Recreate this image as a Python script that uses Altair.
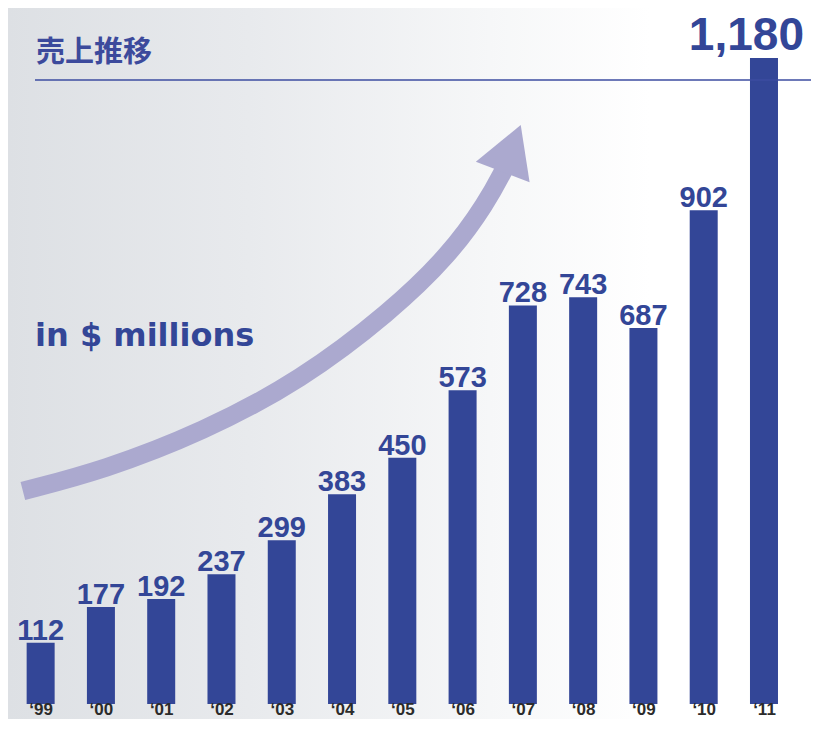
import altair as alt
import pandas as pd

# ---- data ----
years = ["\u201899", "\u201800", "\u201801", "\u201802", "\u201803", "\u201804", "\u201805",
         "\u201806", "\u201807", "\u201808", "\u201809", "\u201810", "\u201811"]
sales = [112, 177, 192, 237, 299, 383, 450, 573, 728, 743, 687, 902, 1180]
value_labels = ["112", "177", "192", "237", "299", "383", "450", "573", "728", "743", "687", "902", "1,180"]

# decorative arrow path (x in bar-index units, y in $ millions)
arrow_x = [-0.295, 1.0485, 2.687, 4.325, 5.800, 6.782, 7.405, 7.700]
arrow_y = [389.1, 427.4, 496.8, 591.8, 716.0, 820.1, 916.9, 979.1]
arrow_head = {"x": 7.815, "y": 1014.7}

title_text = "売上推移"
unit_text = "in $ millions"

BAR = "#334697"
ARROW = "#aba9cf"

W, H = 803, 696
XDOM = [-0.4587, 12.697]
YDOM = [0, 1271.3]

df = pd.DataFrame({"i": list(range(len(years))), "year": years, "sales": sales,
                   "label": value_labels})
df_small = df.iloc[:-1]
df_last = df.iloc[-1:]
arrow_df = pd.DataFrame({"x": arrow_x, "y": arrow_y, "o": list(range(len(arrow_x)))})

xscale = alt.Scale(domain=XDOM, nice=False, zero=False)
yscale = alt.Scale(domain=YDOM, nice=False)

label_expr = "[" + ",".join("'" + y + "'" for y in years) + "][datum.value]"

bg = alt.Chart(alt.Data(values=[{"a": 1}])).mark_rect(
    color=alt.LinearGradient(
        gradient="linear", x1=0, x2=1, y1=0, y2=0,
        stops=[alt.GradientStop(color="#dde0e4", offset=0),
               alt.GradientStop(color="#e8eaed", offset=0.3),
               alt.GradientStop(color="#f6f7f8", offset=0.6),
               alt.GradientStop(color="#ffffff", offset=0.8)])
).encode(x=alt.value(0), x2=alt.value(W), y=alt.value(0), y2=alt.value(H + 15))

bars = alt.Chart(df).mark_bar(color=BAR, size=28).encode(
    x=alt.X("i:Q", scale=xscale,
            axis=alt.Axis(values=list(range(len(years))), labelExpr=label_expr,
                          title=None, domain=False, ticks=False, grid=False,
                          labelOverlap=False, labelFlush=False, zindex=2,
                          labelFont="Liberation Sans", labelFontWeight="bold",
                          labelFontSize=17, labelColor="#2b2b2b", labelPadding=-3)),
    y=alt.Y("sales:Q", scale=yscale, axis=None),
)

arrow_line = alt.Chart(arrow_df).mark_line(
    color=ARROW, strokeWidth=18.5, interpolate="basis", strokeCap="butt"
).encode(
    x=alt.X("x:Q", scale=xscale),
    y=alt.Y("y:Q", scale=yscale),
    order="o:Q",
)

arrow_tip = alt.Chart(alt.Data(values=[arrow_head])).mark_point(
    shape="M0,-0.873L1,0.873L-1,0.873Z", filled=True, opacity=1, color=ARROW,
    size=3318, angle=21, strokeWidth=0
).encode(
    x=alt.X("x:Q", scale=xscale),
    y=alt.Y("y:Q", scale=yscale),
)

bar_labels = alt.Chart(df_small).mark_text(
    color=BAR, font="Liberation Sans", fontWeight="bold", fontSize=29,
    baseline="alphabetic", dy=-3
).encode(
    x=alt.X("i:Q", scale=xscale),
    y=alt.Y("sales:Q", scale=yscale),
    text="label:N",
)

last_label = alt.Chart(df_last).mark_text(
    color=BAR, font="Liberation Sans", fontWeight="bold", fontSize=46,
    baseline="alphabetic", align="right", dx=40, dy=-8
).encode(
    x=alt.X("i:Q", scale=xscale),
    y=alt.Y("sales:Q", scale=yscale),
    text="label:N",
)

title_mark = alt.Chart(alt.Data(values=[{"t": title_text}])).mark_text(
    font="Noto Sans CJK JP", fontWeight="bold", fontSize=29, color="#3c4a9c",
    align="left", baseline="middle"
).encode(x=alt.value(28), y=alt.value(45), text="t:N")

title_rule = alt.Chart(alt.Data(values=[{"a": 1}])).mark_rule(
    color="#3d4da0", strokeWidth=1.5
).encode(x=alt.value(27), x2=alt.value(W), y=alt.value(72))

unit_mark = alt.Chart(alt.Data(values=[{"t": unit_text}])).mark_text(
    font="DejaVu Sans", fontWeight="bold", fontSize=32, color=BAR,
    align="left", baseline="alphabetic"
).encode(x=alt.value(27), y=alt.value(338), text="t:N")

chart = alt.layer(
    bg, bars, title_rule, arrow_line, arrow_tip, bar_labels, last_label, title_mark, unit_mark
).properties(
    width=W, height=H,
    autosize=alt.AutoSizeParams(type="none"),
    padding={"left": 0, "top": 0, "right": 0, "bottom": 15},
    background="#ffffff",
).configure_view(stroke=None).configure_axisY(disable=True)

chart.save("out.html", embed_options={"renderer": "svg", "actions": False})
